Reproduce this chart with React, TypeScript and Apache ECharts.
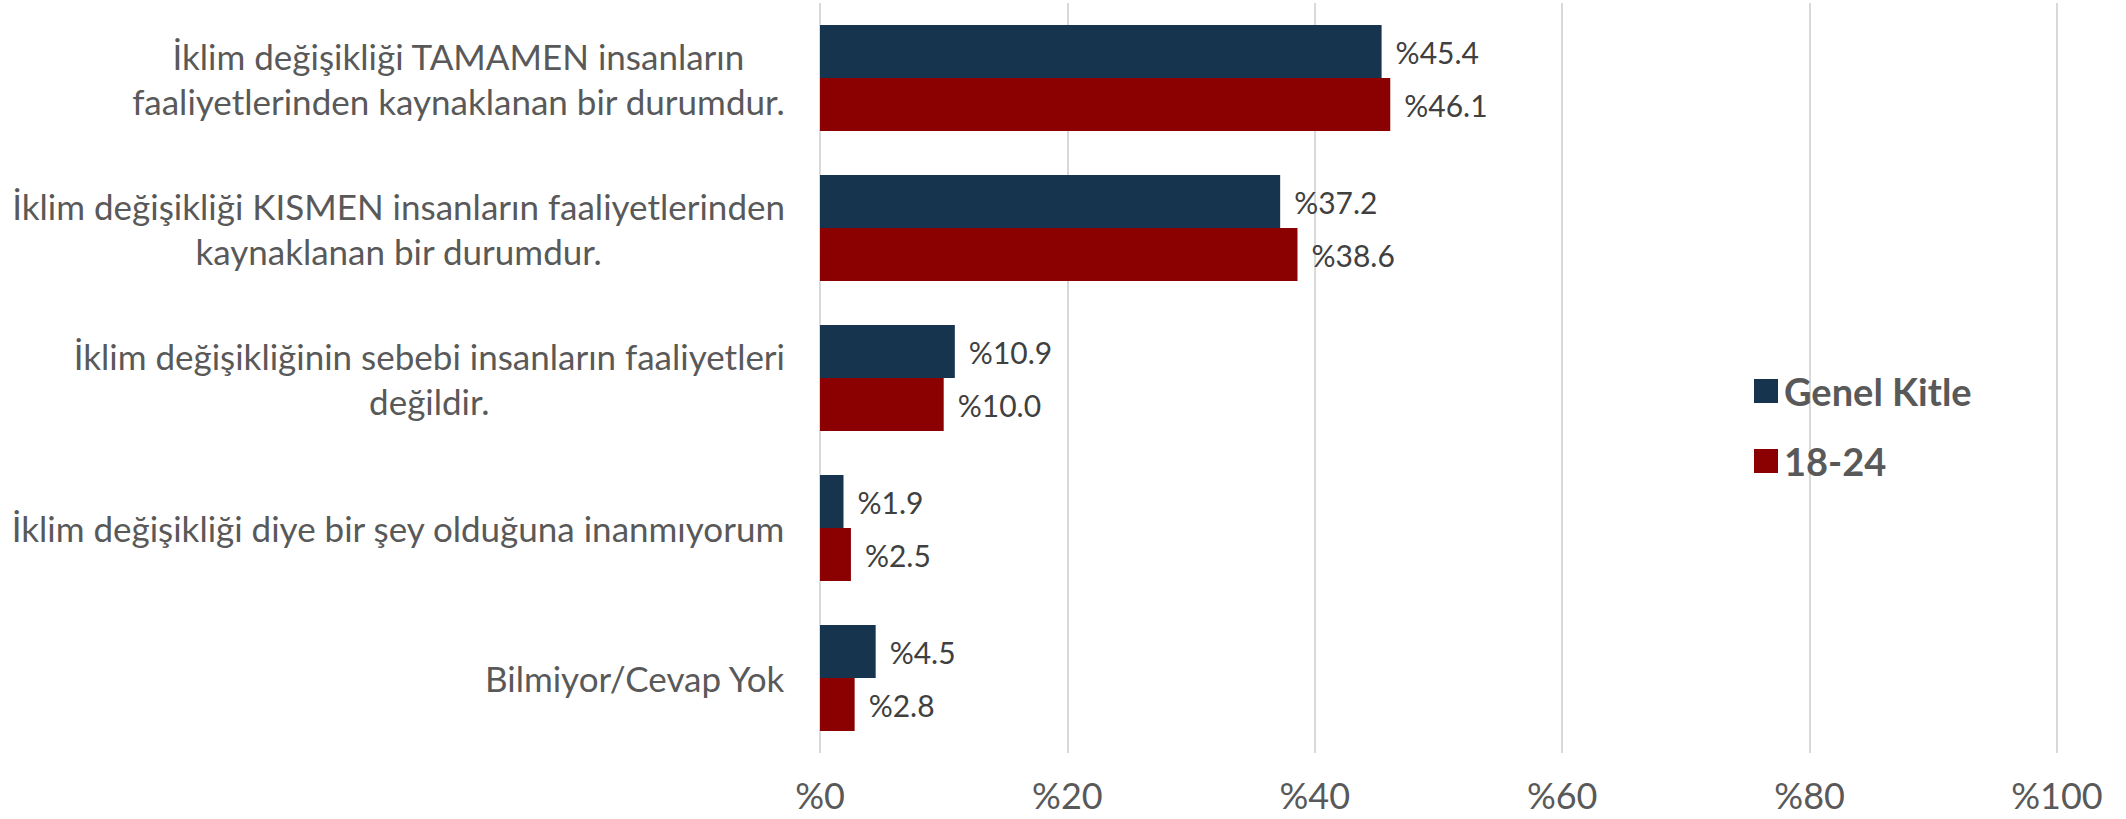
import React, { useEffect, useRef } from "react";
import * as echarts from "echarts";

const categories: string[] = [
  "İklim değişikliği TAMAMEN insanların\nfaaliyetlerinden kaynaklanan bir durumdur.",
  "İklim değişikliği KISMEN insanların faaliyetlerinden\nkaynaklanan bir durumdur.",
  "İklim değişikliğinin sebebi insanların faaliyetleri\ndeğildir.",
  "İklim değişikliği diye bir şey olduğuna inanmıyorum",
  "Bilmiyor/Cevap Yok",
];
const genelKitle: number[] = [45.4, 37.2, 10.9, 1.9, 4.5];
const genc: number[] = [46.1, 38.6, 10.0, 2.5, 2.8];
const seriesNames: string[] = ["Genel Kitle", "18-24"];
const xTicks: number[] = [0, 20, 40, 60, 80, 100];

const FONT = "Lato";

export default function App() {
  const ref = useRef<HTMLDivElement>(null);
  useEffect(() => {
    if (!ref.current) return;
    const chart = echarts.init(ref.current, undefined, { renderer: "svg" });
    const labelStyle = {
      show: true,
      position: "right" as const,
      distance: 14,
      color: "#404040",
      fontSize: 30,
      fontFamily: FONT,
      formatter: (p: any) => "%" + Number(p.value).toFixed(1),
    };
    chart.setOption({
      animation: false,
      backgroundColor: "#ffffff",
      grid: { left: 820, right: 69, top: 3, bottom: 66, containLabel: false },
      legend: {
        orient: "vertical",
        left: 1749,
        top: 363,
        itemWidth: 24,
        itemHeight: 24,
        itemGap: 24,
        icon: "rect",
        data: seriesNames,
        textStyle: {
          fontFamily: FONT,
          fontWeight: "bold",
          fontSize: 38,
          color: "#595959",
          lineHeight: 46,
          padding: [0, 0, 0, 1],
        },
      },
      xAxis: {
        type: "value",
        min: xTicks[0],
        max: xTicks[xTicks.length - 1],
        interval: 20,
        axisLine: { show: false },
        axisTick: { show: false },
        splitLine: { show: true, lineStyle: { color: "#d9d9d9", width: 2 } },
        axisLabel: {
          margin: 24,
          color: "#595959",
          fontSize: 36,
          fontFamily: FONT,
          formatter: (v: number) => "%" + v,
        },
      },
      yAxis: {
        type: "category",
        inverse: true,
        data: categories,
        axisLine: { show: false },
        axisTick: { show: false },
        axisLabel: {
          margin: 35,
          align: "right",
          color: "#595959",
          fontSize: 35,
          fontFamily: FONT,
          lineHeight: 45,
          formatter: (v: string) =>
            v
              .split("\n")
              .map((l) => "{c|" + l + "}")
              .join("\n"),
          rich: {
            c: {
              align: "center",
              color: "#595959",
              fontSize: 35,
              fontFamily: FONT,
              lineHeight: 45,
            },
          },
        },
      },
      series: [
        {
          name: seriesNames[0],
          type: "bar",
          data: genelKitle,
          barWidth: 53,
          barGap: "0%",
          itemStyle: { color: "#17344f" },
          label: labelStyle,
        },
        {
          name: seriesNames[1],
          type: "bar",
          data: genc,
          barWidth: 53,
          barGap: "0%",
          itemStyle: { color: "#8b0000" },
          label: labelStyle,
        },
      ],
    });
    return () => chart.dispose();
  }, []);
  return (
    <div
      ref={ref}
      style={{ position: "fixed", left: 0, top: 0, width: 2126, height: 819 }}
    />
  );
}
